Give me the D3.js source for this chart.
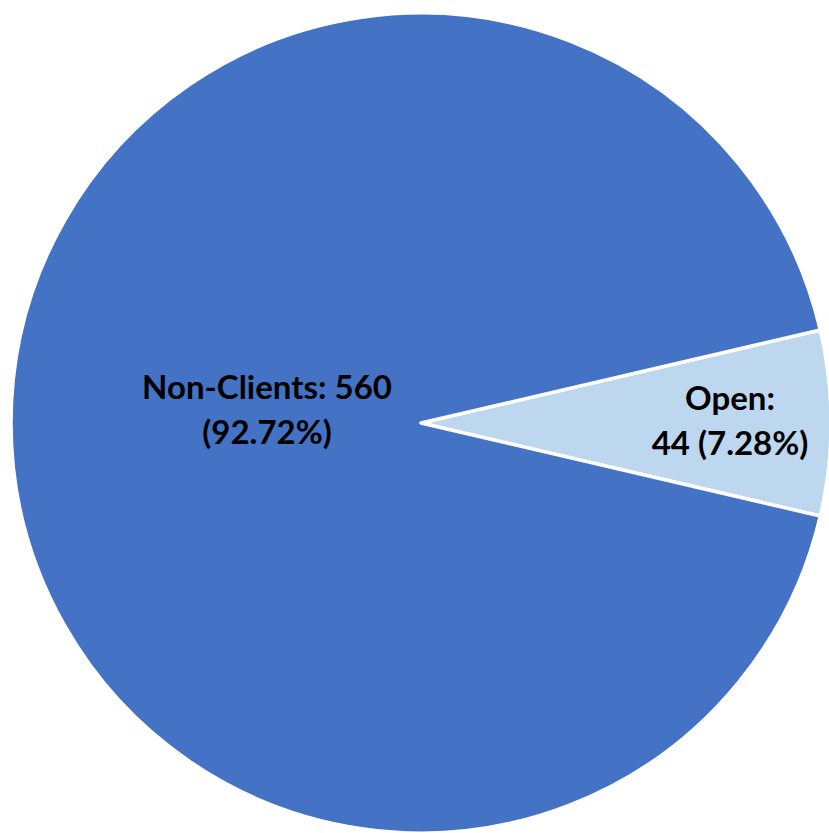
<!DOCTYPE html>
<html lang="en">
<head>
    <meta charset="UTF-8">
    <title>Clients pie</title>
    <script src="https://d3js.org/d3.v7.min.js"></script>
    <style>
        body { margin:0; background:#fff; }
        .label { font-family: Lato, "Open Sans", sans-serif; font-weight:bold; font-size:33px; fill:#000; }
    </style>
</head>
<body>
<script>
    var categories = ["Open", "Non-Clients"];
    var counts = [44, 560];
    var percents = ["7.28%", "92.72%"];
    var colors = ["#BDD7EE", "#4472C4"];

    var width = 829, height = 833;
    var cx = 421, cy = 423, radius = 410;

    var svg = d3.select("body").append("svg")
                .attr("width", width).attr("height", height);

    var data = categories.map(function(c, i){
        return {name:c, value:counts[i], pct:percents[i], color:colors[i]};
    });

    // Open slice sits centered at 3 o'clock
    var openShare = counts[0] / d3.sum(counts);
    var start = Math.PI/2 - openShare * Math.PI;

    var pie = d3.pie()
                .value(function(d){ return d.value; })
                .sort(null)
                .startAngle(start)
                .endAngle(start + 2*Math.PI);

    var arc = d3.arc().innerRadius(0).outerRadius(radius);

    var g = svg.append("g").attr("transform", "translate(" + cx + "," + cy + ")");

    var arcs = pie(data);

    g.selectAll("path.slice")
     .data(arcs)
     .enter().append("path")
     .attr("class", "slice")
     .attr("d", arc)
     .style("fill", function(d){ return d.data.color; })
     .style("stroke", "#fff")
     .style("stroke-width", "3.5px")
     .style("stroke-linejoin", "round");

    // label lines, placed roughly where excel put them
    var labelLines = [
        ["Open:", counts[0] + " (" + percents[0] + ")"],
        [categories[1] + ": " + counts[1], "(" + percents[1] + ")"]
    ];
    var labelRadius = [309, 154];
    var labelShift = [-13, -24];

    arcs.forEach(function(d, i){
        var a = (d.startAngle + d.endAngle) / 2;
        var x = Math.sin(a) * labelRadius[i];
        var y = -Math.cos(a) * labelRadius[i];
        var t = g.append("text").attr("class", "label")
                 .attr("text-anchor", "middle")
                 .attr("transform", "translate(" + x + "," + (y + labelShift[i]) + ")");
        labelLines[i].forEach(function(line, j){
            t.append("tspan").attr("x", 0).attr("y", j * 45).text(line);
        });
    });
</script>
</body>
</html>
